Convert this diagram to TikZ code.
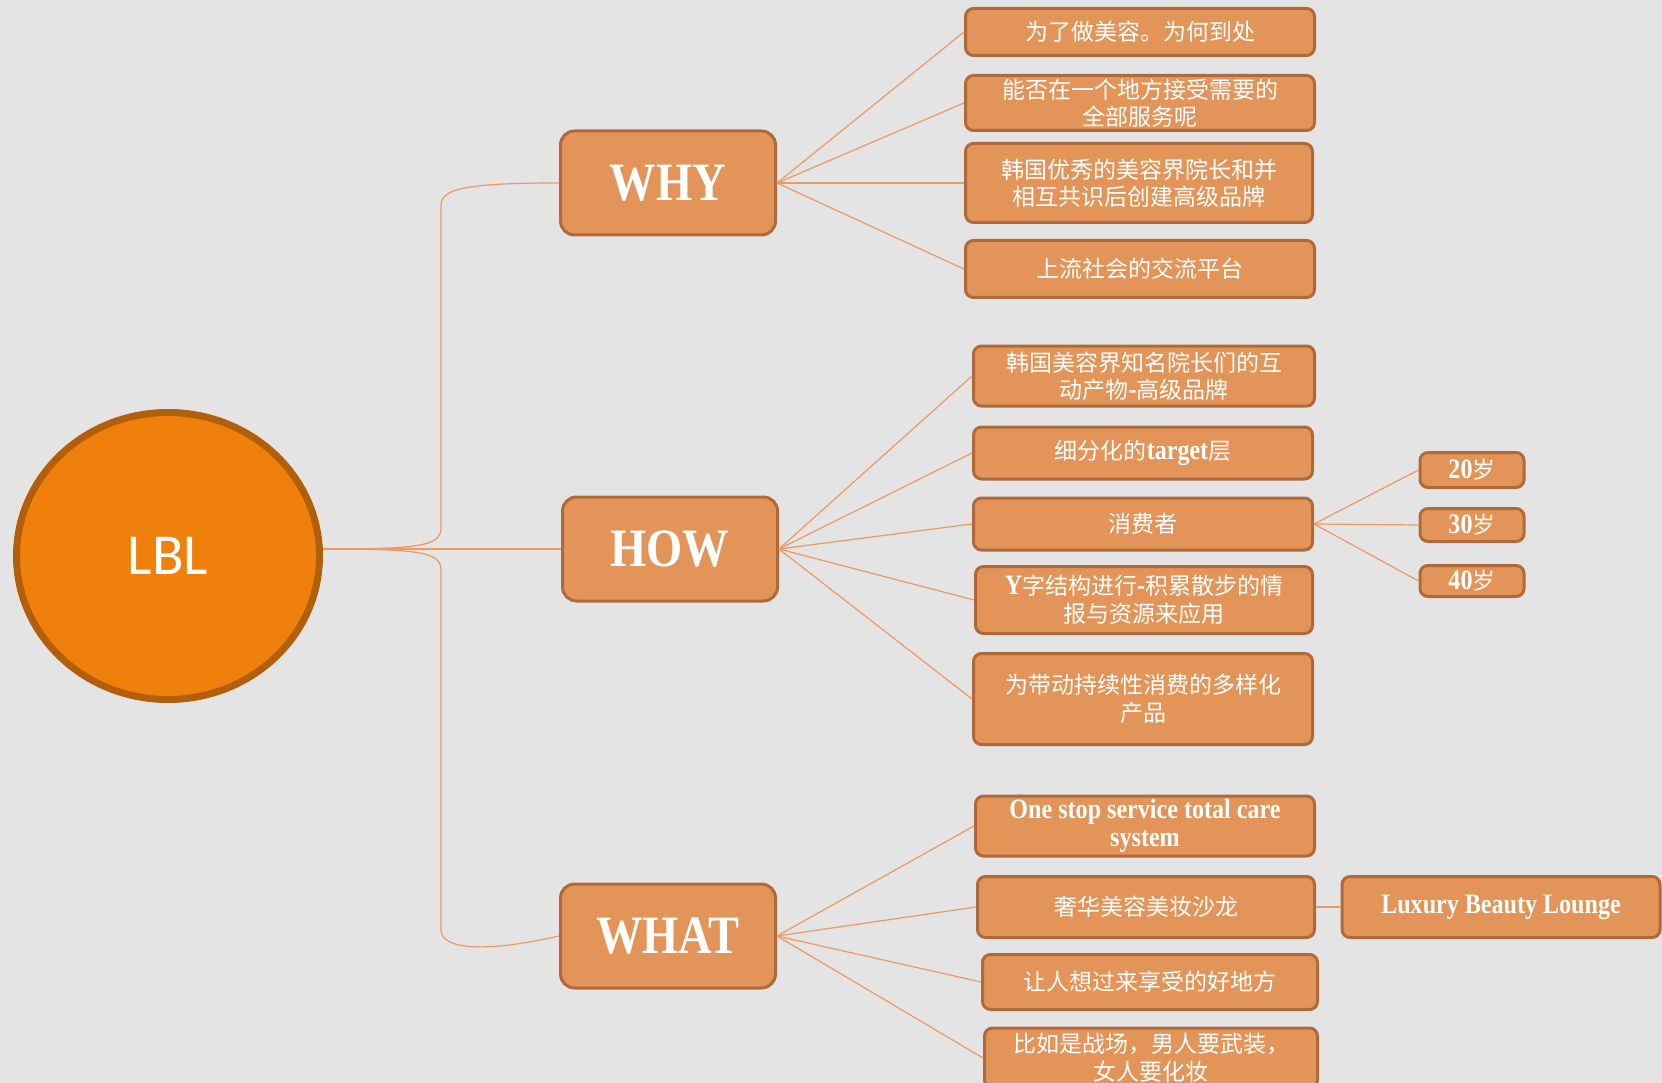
\documentclass[tikz,border=0pt]{standalone}
\usepackage{fontspec}
\setmainfont{Liberation Serif}[FakeStretch=0.86]
\newfontfamily\cjk{Noto Sans CJK SC}
\newfontfamily\corefont{Carlito}
\usetikzlibrary{shapes.geometric}
\definecolor{paper}{HTML}{E4E4E4}
\definecolor{boxfill}{HTML}{E39458}
\definecolor{boxline}{HTML}{B0693A}
\definecolor{wirec}{HTML}{EC9A60}
\definecolor{corefill}{HTML}{F0800C}
\definecolor{coreline}{HTML}{B25E0A}
\newcommand\en[1]{{\rmfamily\bfseries\fontsize{28}{27.5}\selectfont #1}}

\begin{document}
\begin{tikzpicture}[x=1pt,y=-1pt,
hub/.style={draw=boxline,line width=3pt,fill=boxfill,rounded corners=14pt,
  minimum width=215,minimum height=104,text=white,
  font=\bfseries\fontsize{54}{54}\selectfont},
leaf/.style 2 args={draw=boxline,line width=3pt,fill=boxfill,rounded corners=8pt,
  minimum width=#1,minimum height=#2,inner sep=0pt,align=center,text=white,
  font=\cjk\fontsize{23}{27.5}\selectfont},
wire/.style={draw=wirec,line width=1.2pt}]
\useasboundingbox (0,0) rectangle (1662,1083);
\fill[paper] (0,0) rectangle (1662,1083);

% centre
\node[ellipse,draw=coreline,line width=7pt,fill=corefill,minimum width=303,
  minimum height=287,text=white,font=\corefont\fontsize{58}{58}\selectfont]
  (lbl) at (168,556) {LBL};

% first level
\node[hub] (why) at (668,183) {WHY};
\node[hub] (how) at (670,549) {HOW};
\node[hub] (what) at (668,936) {WHAT};

% why
\node[leaf={349}{47}] (why1) at (1140,32) {为了做美容。为何到处};
\node[leaf={349}{55}] (why2) at (1140,103) {能否在一个地方接受需要的\\全部服务呢};
\node[leaf={347}{79}] (why3) at (1139,183) {韩国优秀的美容界院长和并\\相互共识后创建高级品牌};
\node[leaf={349}{57}] (why4) at (1140,269) {上流社会的交流平台};

% how
\node[leaf={341}{60}] (how1) at (1144,376) {韩国美容界知名院长们的互\\动产物\en{-}高级品牌};
\node[leaf={339}{52}] (how2) at (1143,453) {细分化的\en{target}层};
\node[leaf={339}{52}] (how3) at (1143,524) {消费者};
\node[leaf={337}{67}] (how4) at (1144,600) {\en{Y}字结构进行\en{-}积累散步的情\\报与资源来应用};
\node[leaf={339}{91}] (how5) at (1143,699) {为带动持续性消费的多样化\\产品};

\node[leaf={104}{35}] (age20) at (1472,470) {\en{20}岁};
\node[leaf={104}{33}] (age30) at (1472,525) {\en{30}岁};
\node[leaf={104}{31}] (age40) at (1472,581) {\en{40}岁};

% what
\node[leaf={339}{60}] (what1) at (1145,826) {\en{One stop service total care}\\\en{system}};
\node[leaf={337}{61}] (what2) at (1146,907) {奢华美容美妆沙龙};
\node[leaf={335}{55}] (what3) at (1150,982) {让人想过来享受的好地方};
\node[leaf={333}{60}] (what4) at (1151,1058) {比如是战场，男人要武装，\\女人要化妆};
\node[leaf={318}{61}] (lounge) at (1501,907) {\en{Luxury Beauty Lounge}};

% trunk
\draw[wire] (lbl.east |- how.west) -- (how.west);
\draw[wire] (lbl.east |- how.west) .. controls (420,549) and (441,546) .. (441,528)
  -- (441,205) .. controls (441,188) and (470,183) .. (why.west);
\draw[wire] (lbl.east |- how.west) .. controls (420,549) and (441,552) .. (441,570)
  -- (441,930) .. controls (441,948) and (480,954) .. (what.west);

\path[wire]
(why.east) edge (why1.west) edge (why2.west) edge (why3.west) edge (why4.west)
(how.east) edge (how1.west) edge (how2.west) edge (how3.west) edge (how4.west)
  edge (how5.west)
(how3.east) edge (age20.west) edge (age30.west) edge (age40.west)
(what.east) edge (what1.west) edge (what2.west) edge (what3.west) edge (what4.west)
(what2.east) edge (lounge.west);
\end{tikzpicture}
\end{document}
